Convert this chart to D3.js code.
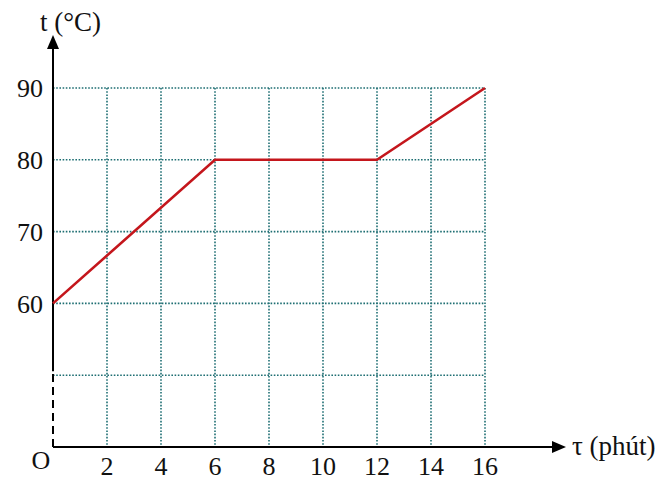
<!DOCTYPE html>
<html lang="vi">
<head>
	<meta charset="utf-8">
	<title>t - tau</title>
	<script src="https://d3js.org/d3.v7.min.js"></script>
	<style type="text/css">
		body { margin: 0; background: #fff; }
		text { font-family: "Liberation Serif", "DejaVu Serif", serif; fill: #111; }
	</style>
</head>
<body>
	<script type="text/javascript">
	// data
	var times = [0, 6, 12, 16]          // phút
	var temps = [60, 80, 80, 90]        // °C
	var xTicks = [2, 4, 6, 8, 10, 12, 14, 16]
	var yTicks = [60, 70, 80, 90]
	var yGrid = [50, 60, 70, 80, 90]

	var w = 669, h = 485
	var gridColor = "#1f6f73"
	var lineColor = "#c4161c"

	var xScale = d3.scaleLinear().domain([0, 16]).range([53, 485])
	var yScale = d3.scaleLinear().domain([40, 90]).range([447, 88])

	var svg = d3.select("body").append("svg")
		.attr("width", w)
		.attr("height", h)

	// dotted grid
	svg.append("g")
		.selectAll("line")
		.data(xTicks)
		.enter()
		.append("line")
		.attr("x1", d => xScale(d)).attr("x2", d => xScale(d))
		.attr("y1", yScale(90)).attr("y2", yScale(40))
		.attr("stroke", gridColor)
		.attr("stroke-width", 1.6)
		.style("stroke-dasharray", "1.6, 1.6")

	svg.append("g")
		.selectAll("line")
		.data(yGrid)
		.enter()
		.append("line")
		.attr("x1", xScale(0)).attr("x2", xScale(16))
		.attr("y1", d => yScale(d)).attr("y2", d => yScale(d))
		.attr("stroke", gridColor)
		.attr("stroke-width", 1.6)
		.style("stroke-dasharray", "1.6, 1.6")

	// axes
	var x0 = xScale(0), y0 = yScale(40)
	svg.append("line")
		.attr("x1", x0).attr("x2", 555)
		.attr("y1", y0).attr("y2", y0)
		.attr("stroke", "#000").attr("stroke-width", 2)
	svg.append("path")
		.attr("d", "M566," + y0 + "L552," + (y0 - 6) + "L552," + (y0 + 6) + "Z")
		.attr("fill", "#000")

	svg.append("line")
		.attr("x1", x0).attr("x2", x0)
		.attr("y1", yScale(50) - 4).attr("y2", 46)
		.attr("stroke", "#000").attr("stroke-width", 2)
	svg.append("line")
		.attr("x1", x0).attr("x2", x0)
		.attr("y1", y0).attr("y2", yScale(50) - 4)
		.attr("stroke", "#000").attr("stroke-width", 2)
		.style("stroke-dasharray", "8, 5")
	svg.append("path")
		.attr("d", "M" + x0 + ",35L" + (x0 - 6) + ",49L" + (x0 + 6) + ",49Z")
		.attr("fill", "#000")

	// tick labels
	svg.append("g")
		.selectAll("text")
		.data(xTicks)
		.enter()
		.append("text")
		.attr("x", d => xScale(d))
		.attr("y", 475)
		.attr("text-anchor", "middle")
		.style("font-size", "26px")
		.text(d => d)

	svg.append("g")
		.selectAll("text")
		.data(yTicks)
		.enter()
		.append("text")
		.attr("x", 43)
		.attr("y", d => yScale(d))
		.attr("dy", "0.35em")
		.attr("text-anchor", "end")
		.style("font-size", "26px")
		.text(d => d)

	svg.append("text")
		.attr("x", 41).attr("y", 469)
		.attr("text-anchor", "middle")
		.style("font-size", "26px")
		.text("O")

	// axis titles
	svg.append("text")
		.attr("x", 40).attr("y", 31)
		.style("font-size", "27px")
		.text("t (°C)")
	svg.append("text")
		.attr("x", 572).attr("y", 455)
		.style("font-size", "27px")
		.text("τ (phút)")

	// the line
	var line = d3.line()
		.x((d, i) => xScale(times[i]))
		.y(d => yScale(d))
	svg.append("path")
		.attr("d", line(temps))
		.attr("fill", "none")
		.attr("stroke", lineColor)
		.attr("stroke-width", 2.6)
	</script>
</body>
</html>
